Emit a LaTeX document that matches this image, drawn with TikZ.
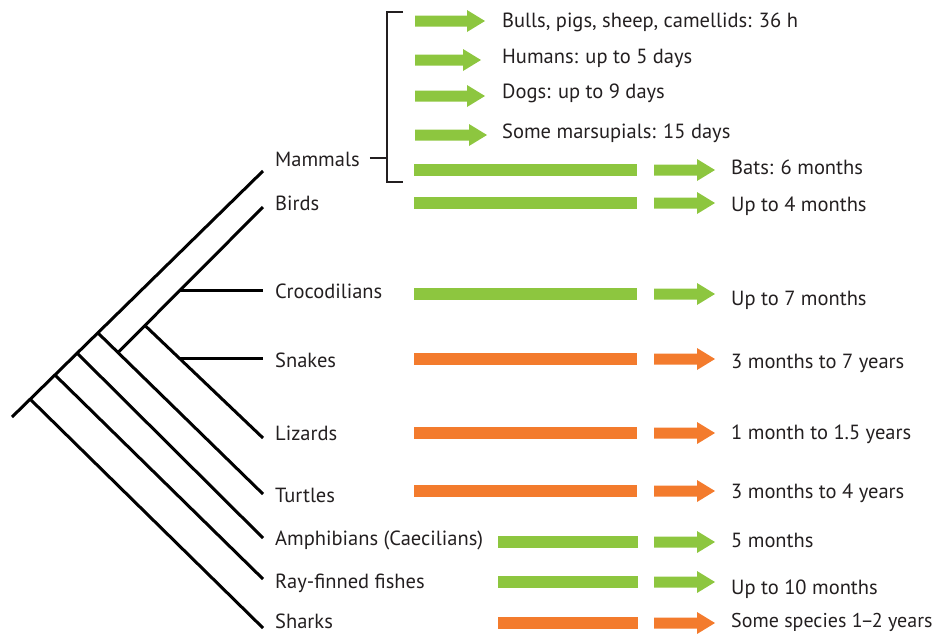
\documentclass[tikz,border=0pt]{standalone}
\usepackage{fontspec}
\setmainfont{PT Sans}
\definecolor{barGreen}{HTML}{8DC63F}
\definecolor{barOrange}{HTML}{F37B2D}
\definecolor{txtGray}{HTML}{231F20}
% block arrow: colour, x start, x tip, y
\newcommand{\blockarrow}[4]{\fill[#1] (#2,#4-5.5) -- (#3-18,#4-5.5) -- (#3-18,#4-11) -- (#3,#4) -- (#3-18,#4+11) -- (#3-18,#4+5.5) -- (#2,#4+5.5) -- cycle;}
\begin{document}
\begin{tikzpicture}[x=1pt, y=-1pt, font=\fontsize{20.5}{24}\selectfont,
    lbl/.style={anchor=base west, inner sep=0pt, text=txtGray},
    branch/.style={line width=3pt, black},
    brk/.style={line width=1.2pt, txtGray}]
    \useasboundingbox (0,0) rectangle (940,633);
    % tree
    \coordinate (root) at (12,417);
    \coordinate (b1) at (30,399);
    \coordinate (b2) at (55,375);
    \coordinate (b3) at (77,353);
    \coordinate (b4) at (98,333);
    \coordinate (b5) at (118,352.5);
    \coordinate (b6) at (145,325.5);
    \coordinate (b7) at (180,290);
    \coordinate (b8) at (180,358);
    \draw[branch] (root) -- (263,171);
    \draw[branch] (b1) -- (263,628);
    \draw[branch] (b2) -- (263,579);
    \draw[branch] (b3) -- (263,538);
    \draw[branch] (b4) -- (263,494);
    \draw[branch] (b5) -- (263,207);
    \draw[branch] (b6) -- (263,438);
    \draw[branch] (b7) -- (263,290);
    \draw[branch] (b8) -- (263,358);
    % taxa
    \foreach \n/\y/\t in {mammals/166/Mammals, birds/210/Birds, crocs/298/Crocodilians,
        snakes/367/Snakes, lizards/440/Lizards, turtles/502/Turtles,
        amphib/545/Amphibians (Caecilians), rayfin/588/Ray-finned fishes, sharks/628/Sharks} {
        \node[lbl] (\n) at (275,\y) {\t};
    }
    % bracket
    \coordinate (brkmid) at (387,158);
    \draw[brk] (403,12) -- (387,12) -- (387,182) -- (403,182);
    \draw[brk] ([xshift=10pt]mammals.east |- brkmid) -- (brkmid);
    % short arrows
    \foreach \y/\tip/\b/\t in {21/485/27/{Bulls, pigs, sheep, camellids: 36 h}, 60/481/63/{Humans: up to 5 days},
        96/485/98/{Dogs: up to 9 days}, 135/487/138/{Some marsupials: 15 days}} {
        \blockarrow{barGreen}{415}{\tip}{\y}
        \node[lbl] at (502,\b) {\t};
    }
    % long bars
    \foreach \y/\c/\b/\t in {170/barGreen/174/{Bats: 6 months}, 203/barGreen/211/{Up to 4 months},
        294/barGreen/305/{Up to 7 months}, 359/barOrange/368/{3 months to 7 years},
        433/barOrange/439/{1 month to 1.5 years}, 491/barOrange/498/{3 months to 4 years}} {
        \fill[\c] (414,\y-6) rectangle (637,\y+6);
        \blockarrow{\c}{654}{715}{\y}
        \node[lbl] at (731,\b) {\t};
    }
    \foreach \y/\c/\b/\t in {542/barGreen/547/{5 months}, 582/barGreen/594/{Up to 10 months},
        623/barOrange/627/{\fontsize{20}{24}\selectfont Some species 1\kern-2pt--\kern-2pt2 years}} {
        \fill[\c] (498,\y-6) rectangle (638,\y+6);
        \blockarrow{\c}{654}{715}{\y}
        \node[lbl] at (731,\b) {\t};
    }
\end{tikzpicture}
\end{document}
